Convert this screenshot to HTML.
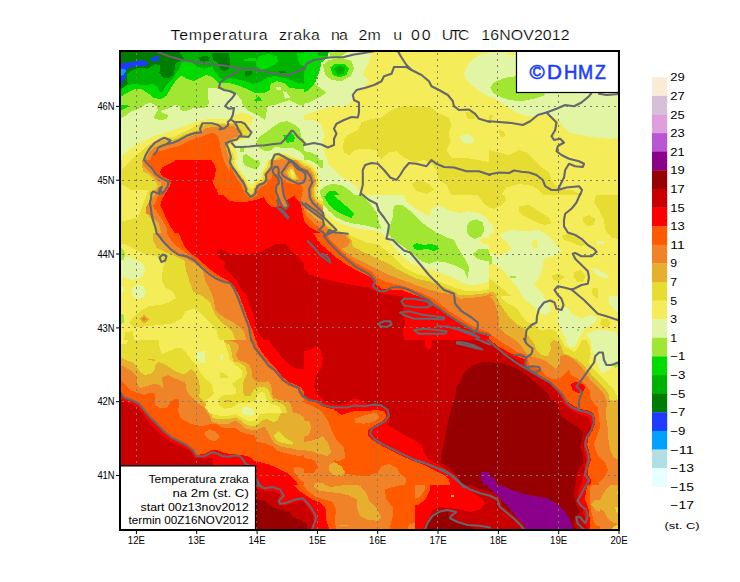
<!DOCTYPE html><html><head><meta charset="utf-8"><title>Temperatura zraka na 2m</title>
<style>html,body{margin:0;padding:0;background:#fff}svg{display:block}text{font-family:"Liberation Sans",sans-serif;fill:#000}.t{stroke:#fff;stroke-width:0.2px}</style></head><body>
<svg width="740" height="582" viewBox="0 0 740 582">
<rect width="740" height="582" fill="#fff"/>
<defs><clipPath id="mapclip"><rect x="120" y="51" width="499" height="479"/></clipPath></defs>
<g clip-path="url(#mapclip)" shape-rendering="crispEdges">
<clipPath id="t0"><rect x="119" y="50" width="185" height="145"/></clipPath>
<g clip-path="url(#t0)">
<rect x="119" y="50" width="185" height="145" fill="#00b200"/>
<polygon points="119.0,50.0 177.8,50.0 184.0,58.8 175.2,63.8 174.0,75.0 169.0,78.0 162.8,77.5 159.5,72.5 160.2,65.0 155.2,64.2 147.8,68.8 137.8,67.5 130.2,71.2 126.5,75.0 127.8,83.8 119.0,91.2" fill="#007d00"/>
<polygon points="199.0,57.5 205.2,55.5 210.2,57.5 209.0,60.5 204.0,61.8 200.2,60.5" fill="#007d00"/>
<polygon points="212.0,52.5 229.0,52.5 230.2,62.5 229.0,68.8 224.0,71.2 220.2,68.8 217.8,62.5 212.8,60.0" fill="#007d00"/>
<polygon points="244.5,71.0 251.5,70.5 252.0,75.0 246.5,76.8 244.5,74.5" fill="#007d00"/>
<polygon points="278.2,71.0 284.0,70.5 285.8,72.5 281.5,73.8" fill="#007d00"/>
<polygon points="119.0,63.8 131.5,61.8 144.0,60.0 147.8,63.0 147.0,65.5 137.8,66.2 130.2,67.5 126.5,70.5 125.2,78.8 121.5,84.2 119.0,85.0" fill="#1e3cff"/>
<polygon points="150.2,58.8 156.5,55.5 159.5,56.8 159.0,60.5 154.0,61.8 150.8,60.5" fill="#1e3cff"/>
<polygon points="119.0,70.0 124.0,68.8 126.2,70.5 124.0,74.2 119.0,77.5" fill="#00a0ff"/>
<polygon points="255.8,61.2 259.0,56.2 269.0,53.8 276.5,56.2 278.2,61.2 274.0,65.0 266.5,68.8 260.2,70.0 256.5,66.2" fill="#00dc00"/>
<polygon points="244.0,58.8 255.8,58.0 255.8,61.2 244.0,60.5" fill="#00dc00"/>
<polygon points="297.0,52.5 305.0,52.5 305.0,66.2 300.2,65.0 297.8,58.8" fill="#00dc00"/>
<polygon points="119.0,90.0 121.5,88.8 127.8,85.0 132.8,83.8 144.0,85.0 154.0,84.2 157.8,87.5 160.2,92.5 163.2,91.2 165.2,86.2 171.5,80.0 175.2,75.0 179.0,68.8 181.5,62.5 186.5,60.5 192.8,63.0 196.5,66.2 204.0,68.8 212.0,66.2 217.0,75.0 222.0,78.8 228.2,78.0 237.0,79.2 244.5,81.2 253.2,83.8 262.0,81.2 268.2,76.8 277.0,76.2 287.0,78.8 297.0,82.5 305.0,83.8 305.0,200.0 119.0,200.0" fill="#00dc00"/>
<polygon points="119.0,97.5 121.5,96.2 129.0,91.8 135.2,89.2 141.5,89.2 147.8,93.0 154.0,98.0 161.5,99.2 166.5,95.5 171.5,87.5 176.5,80.0 181.5,75.5 186.5,78.8 194.0,81.2 200.2,78.0 206.5,75.0 212.0,76.8 218.2,83.0 227.0,82.5 234.5,84.2 244.5,88.0 254.5,92.5 264.5,93.0 269.5,90.0 270.8,83.8 277.0,81.2 284.5,83.0 289.5,87.5 297.0,88.8 305.0,89.2 305.0,200.0 119.0,200.0" fill="#a0e632"/>
<polygon points="119.0,105.0 127.8,105.0 127.8,107.0 119.0,111.2" fill="#00dc00"/>
<polygon points="253.2,101.2 259.0,95.8 262.0,101.2" fill="#00dc00"/>
<polygon points="119.0,118.8 121.5,118.0 126.5,115.0 131.5,111.2 137.8,109.2 146.5,103.8 151.5,103.0 156.5,106.2 157.8,110.0 155.2,115.0 153.2,118.0 159.0,120.0 166.5,119.2 168.2,115.0 162.8,113.0 160.2,111.2 169.0,108.0 175.2,105.0 180.2,106.2 180.2,110.0 184.0,111.2 189.0,110.0 194.0,107.5 204.0,108.0 209.0,103.8 207.8,93.8 208.2,87.5 219.0,88.8 229.0,90.0 236.5,93.8 241.5,100.0 243.2,106.2 249.0,111.2 259.0,116.2 265.2,120.0 266.5,112.5 267.0,106.2 274.0,105.0 281.5,102.5 289.0,100.0 294.0,102.5 299.0,105.0 305.0,106.2 305.0,200.0 119.0,200.0" fill="#e1f5a5"/>
<polygon points="275.8,87.5 281.0,86.8 281.5,90.0 277.0,90.5" fill="#e1f5a5"/>
<polygon points="282.8,91.2 286.5,92.0 290.2,97.5 285.2,98.8" fill="#e1f5a5"/>
<polygon points="256.5,141.5 259.8,136.5 266.0,132.5 272.2,127.5 279.8,122.5 287.2,121.2 295.0,125.0 300.0,130.0 301.2,137.5 305.0,140.0 305.0,156.5 300.0,151.5 292.5,147.8 282.2,147.8 274.8,146.5 271.0,150.2 266.0,151.5 259.8,148.2 256.5,145.2" fill="#a0e632"/>
<polygon points="283.0,135.0 287.2,135.0 291.2,132.0 295.0,137.5 293.8,141.5 287.2,142.8 284.8,139.5" fill="#00dc00"/>
<polygon points="242.8,155.2 246.0,154.0 253.5,159.0 259.0,162.8 259.8,166.5 256.0,168.5 249.8,166.5 243.5,164.8" fill="#a0e632"/>
<polygon points="240.2,148.2 244.0,148.2 244.0,151.5 240.2,151.5" fill="#a0e632"/>
<polygon points="119.0,157.5 121.5,155.8 131.5,147.8 141.5,142.0 151.5,137.0 161.8,133.8 171.8,130.8 181.8,127.0 191.8,123.2 201.8,120.0 212.0,118.8 224.5,119.5 230.8,117.5 235.8,115.0 241.0,112.5 248.5,114.5 252.8,117.5 252.2,122.5 249.8,126.2 251.0,132.0 248.5,137.0 243.5,139.0 237.0,141.5 233.2,143.2 235.8,147.8 237.0,154.0 236.5,160.2 238.5,165.2 244.8,170.2 253.5,176.5 262.2,177.8 266.0,174.0 267.2,169.0 272.2,160.2 273.5,155.2 277.2,152.0 284.8,153.2 292.5,156.5 300.0,160.2 305.0,162.8 305.0,200.0 119.0,200.0" fill="#f5ec5a"/>
<polygon points="119.0,171.2 121.5,169.0 129.0,161.5 137.8,154.0 145.2,147.8 151.8,143.0 159.2,139.2 166.8,137.0 174.2,137.0 181.8,133.2 189.2,129.5 196.8,125.8 201.8,122.5 212.0,122.5 219.5,122.5 227.0,123.8 232.0,122.0 237.0,123.2 242.2,123.8 246.0,127.5 249.8,132.5 247.2,136.5 241.0,138.2 234.5,140.2 230.8,143.2 228.2,146.5 233.2,152.8 235.2,160.2 237.0,166.5 243.5,172.8 249.8,177.8 254.8,182.8 254.8,200.0 119.0,200.0" fill="#e6dc32"/>
<polygon points="262.2,200.0 262.2,182.8 266.0,177.8 269.8,170.2 273.5,160.2 276.0,154.5 279.8,154.0 287.2,155.8 295.0,159.0 302.5,162.8 305.0,164.8 305.0,200.0" fill="#e6dc32"/>
<polygon points="142.2,200.0 142.2,180.2 142.2,169.0 142.8,162.8 144.0,156.5 147.8,150.2 152.8,144.5 159.2,141.2 166.8,139.5 173.0,140.0 179.2,137.5 186.8,133.8 194.2,131.2 199.2,130.0 201.8,126.2 207.0,125.0 212.0,124.5 219.5,124.8 228.2,123.2 234.5,123.8 239.0,127.0 242.2,131.2 241.5,135.0 238.5,138.2 233.2,140.2 229.5,143.0 227.0,145.8 229.5,151.5 232.0,157.8 234.0,164.0 237.0,169.0 242.2,174.0 247.2,179.0 251.0,182.8 251.0,200.0" fill="#e6af2d"/>
<polygon points="264.8,200.0 268.5,176.5 271.0,170.2 274.8,162.8 277.2,157.8 282.2,157.0 290.0,159.5 297.5,162.8 305.0,166.5 305.0,200.0" fill="#e6af2d"/>
<polygon points="156.8,200.0 156.8,180.2 150.5,172.8 146.0,165.2 146.0,159.0 149.0,152.8 154.2,147.0 160.5,146.5 169.2,144.5 175.5,143.2 181.8,140.0 189.2,137.0 195.5,134.5 201.8,133.2 204.2,128.8 212.0,127.0 217.0,127.5 223.2,127.0 228.2,125.8 233.2,126.2 237.0,128.8 239.0,132.5 237.0,136.5 233.2,138.2 229.5,140.8 225.8,144.0 226.5,150.2 229.0,157.8 230.8,164.0 234.5,170.2 239.8,176.5 243.5,182.8 243.5,200.0" fill="#f08228"/>
<polygon points="267.2,200.0 271.0,175.2 273.5,167.8 277.2,160.2 282.2,159.0 287.2,160.2 288.5,165.2 284.8,170.2 286.0,176.5 292.5,180.2 305.0,182.8 305.0,200.0" fill="#f08228"/>
<polygon points="287.2,164.0 292.5,162.8 297.5,172.8 298.8,177.8 293.8,176.5 288.5,171.5" fill="#e6dc32"/>
<polygon points="156.8,200.0 156.8,175.2 151.8,166.5 150.5,159.0 153.0,152.8 161.8,150.8 171.8,147.8 179.2,145.8 186.8,142.0 194.2,138.8 204.2,135.8 212.0,132.5 217.0,135.0 219.5,141.5 220.8,150.2 223.2,157.8 225.8,165.2 229.5,171.5 233.2,177.8 237.0,182.8 237.0,200.0" fill="#ff5a00"/>
<polygon points="269.8,200.0 271.5,178.8 276.5,176.2 280.2,180.0 280.2,200.0" fill="#ff5a00"/>
<polygon points="160.5,200.0 160.5,172.8 161.8,167.8 169.2,164.0 178.0,160.2 186.8,161.5 196.8,160.8 207.0,160.2 213.5,162.8 215.8,168.8 215.2,175.2 212.8,182.8 217.0,190.2 219.5,200.0" fill="#ff0000"/>
</g>
<clipPath id="t1"><rect x="304" y="50" width="185" height="145"/></clipPath>
<g clip-path="url(#t1)">
<rect x="304" y="50" width="185" height="145" fill="#f5ec5a"/>
<polygon points="304.0,50.0 371.5,50.0 370.2,60.0 365.2,68.8 362.8,75.0 369.0,80.0 364.0,87.5 357.8,90.0 354.0,96.2 351.5,102.5 346.5,106.2 334.0,106.2 319.0,110.0 309.0,113.8 304.0,115.0" fill="#e1f5a5"/>
<polygon points="304.0,120.0 314.0,119.5 321.5,125.0 324.0,135.0 322.8,145.0 325.2,155.0 329.0,165.0 336.5,172.5 346.5,180.0 356.5,186.2 361.5,195.0 304.0,195.0" fill="#e1f5a5"/>
<polygon points="464.0,72.5 469.0,62.5 479.0,55.0 490.0,52.5 490.0,97.5 481.5,92.5 471.5,85.0 465.2,78.8" fill="#e1f5a5"/>
<polygon points="460.2,136.2 466.5,133.8 474.0,137.5 472.8,142.5 465.2,143.8 461.0,141.2" fill="#e1f5a5"/>
<polygon points="304.0,75.0 311.5,80.0 316.5,85.0 326.5,92.5 319.0,97.5 309.0,102.5 304.0,103.8" fill="#a0e632"/>
<polygon points="322.8,65.0 329.0,60.0 341.5,57.5 351.5,61.2 354.0,68.8 350.2,76.2 341.5,81.2 331.5,80.0 325.2,75.0" fill="#a0e632"/>
<polygon points="327.8,50.0 350.2,50.0 341.5,56.2 331.5,57.5" fill="#a0e632"/>
<polygon points="304.0,50.0 329.0,50.0 327.8,57.5 321.5,62.5 319.0,72.5 315.2,82.5 309.0,90.0 304.0,92.5" fill="#00dc00"/>
<polygon points="316.5,50.0 329.0,50.0 327.8,55.5 319.0,56.2" fill="#00b200"/>
<polygon points="330.2,67.5 335.2,63.8 344.0,63.8 349.0,68.8 346.5,75.0 339.0,77.5 332.8,75.0" fill="#00dc00"/>
<polygon points="334.0,68.8 339.0,65.5 345.2,67.5 344.0,73.8 337.8,75.0" fill="#00b200"/>
<polygon points="304.0,151.2 311.5,152.5 317.8,156.2 320.2,163.8 316.5,168.8 309.0,162.5 304.0,160.0" fill="#a0e632"/>
<polygon points="319.0,195.0 322.8,187.5 331.5,183.8 341.5,185.0 349.0,190.0 354.0,195.0" fill="#a0e632"/>
<polygon points="325.2,195.0 329.0,191.2 335.2,191.2 339.0,195.0" fill="#00dc00"/>
<polygon points="344.0,140.0 347.8,135.0 357.8,130.0 361.5,122.5 371.5,118.8 381.5,117.5 391.5,110.0 401.5,106.2 416.5,106.2 431.5,107.5 439.0,113.8 449.0,117.5 451.5,125.0 449.0,132.5 450.2,142.5 446.5,150.0 451.5,157.5 464.0,157.5 479.0,160.0 490.0,162.5 490.0,195.0 451.5,195.0 446.5,185.0 439.0,180.0 436.5,170.0 431.5,163.8 424.0,160.0 414.0,162.5 404.0,157.5 396.5,151.2 389.0,152.5 381.5,158.8 376.5,155.0 376.5,150.0 364.0,148.8 354.0,150.0 349.0,155.0 344.0,152.5 342.8,146.2" fill="#e6dc32"/>
<polygon points="465.2,112.5 471.5,111.2 476.5,115.0 474.0,119.5 467.8,118.8" fill="#e6dc32"/>
<polygon points="411.5,183.8 419.0,180.0 429.0,183.8 434.0,190.0 426.5,193.8 416.5,191.2" fill="#e6dc32"/>
<polygon points="304.0,167.5 309.0,168.8 314.0,176.2 315.2,195.0 304.0,195.0" fill="#e6dc32"/>
<polygon points="304.0,169.5 308.0,170.8 312.2,177.5 313.5,195.0 304.0,195.0" fill="#e6af2d"/>
<polygon points="304.0,172.0 307.0,173.0 310.2,180.0 311.0,195.0 304.0,195.0" fill="#f08228"/>
</g>
<clipPath id="t2"><rect x="489" y="50" width="185" height="145"/></clipPath>
<g clip-path="url(#t2)">
<rect x="489" y="50" width="185" height="145" fill="#f5ec5a"/>
<polygon points="489.0,50.0 621.5,50.0 621.5,137.5 609.0,138.8 594.0,137.5 581.5,135.0 569.0,132.5 562.8,126.2 557.8,118.8 549.0,114.5 539.0,115.5 526.5,116.2 516.5,112.5 506.5,106.2 496.5,100.0 489.0,96.2" fill="#e1f5a5"/>
<polygon points="506.5,52.0 516.5,52.0 515.2,55.5 507.8,55.0" fill="#f5ec5a"/>
<polygon points="490.2,87.5 494.0,82.5 504.0,78.0 516.5,76.2 516.5,92.5 544.0,92.5 545.2,95.0 534.0,98.8 521.5,101.2 509.0,100.0 499.0,96.2 492.8,92.5" fill="#a0e632"/>
<polygon points="489.0,150.0 499.0,152.5 509.0,155.0 519.0,150.0 526.5,152.5 534.0,160.0 541.5,167.5 549.0,172.5 551.5,180.0 556.5,186.2 561.5,190.0 571.5,190.0 581.5,195.0 489.0,195.0" fill="#e6dc32"/>
<polygon points="499.0,130.0 504.0,131.2 505.2,136.2 500.2,137.5" fill="#e6dc32"/>
<polygon points="489.0,115.0 492.8,115.5 492.0,120.0 489.0,120.5" fill="#e6dc32"/>
<polygon points="501.5,195.0 506.5,187.5 519.0,183.8 534.0,186.2 544.0,195.0" fill="#f5ec5a"/>
</g>
<clipPath id="t3"><rect x="119" y="195" width="185" height="145"/></clipPath>
<g clip-path="url(#t3)">
<rect x="119" y="195" width="185" height="145" fill="#e6dc32"/>
<polygon points="119.0,195.0 146.5,195.0 147.0,207.5 142.8,212.5 137.8,218.8 130.2,220.0 124.0,220.0 119.0,222.5" fill="#f5ec5a"/>
<polygon points="119.0,245.0 125.2,243.8 134.0,248.8 144.0,253.8 156.5,256.2 165.2,260.5 162.8,270.0 161.5,280.0 165.2,287.5 172.8,291.2 176.0,297.5 169.0,302.5 160.2,305.0 149.0,306.2 140.2,311.2 134.0,316.2 129.0,322.5 134.0,327.5 146.5,326.2 159.0,325.0 171.5,323.8 181.5,318.8 185.2,311.2 194.0,308.8 201.5,313.8 209.0,321.2 216.5,330.0 219.0,340.0 119.0,340.0" fill="#f5ec5a"/>
<polygon points="119.0,255.0 126.5,256.2 134.0,258.8 141.5,262.5 145.2,267.5 144.0,275.0 139.0,278.8 131.5,280.0 124.0,277.5 119.0,278.8" fill="#e1f5a5"/>
<polygon points="131.5,288.8 136.5,285.0 144.0,286.2 146.0,292.5 142.8,298.0 136.5,298.8 132.0,295.0" fill="#e1f5a5"/>
<polygon points="119.0,286.2 124.0,287.5 124.5,291.2 119.0,292.5" fill="#e1f5a5"/>
<polygon points="119.0,247.5 122.8,248.8 125.2,253.8 124.0,259.5 119.0,260.5" fill="#a0e632"/>
<polygon points="119.0,312.5 123.5,315.0 124.5,322.5 119.0,325.0" fill="#a0e632"/>
<polygon points="124.0,340.0 125.2,332.5 132.8,331.2 134.0,340.0" fill="#e6dc32"/>
<polygon points="139.0,318.8 144.0,315.0 149.5,319.2 144.0,323.8" fill="#e6af2d"/>
<polygon points="141.5,319.2 144.0,317.0 147.0,319.2 144.0,321.8" fill="#f08228"/>
<polygon points="148.5,192.5 149.0,210.0 151.0,222.5 152.8,232.5 153.5,241.2 156.5,247.5 165.2,252.0 175.2,256.2 184.5,260.5 186.0,270.0 189.0,280.0 192.8,291.2 202.8,296.2 210.2,302.5 214.0,312.5 219.0,320.0 226.5,326.2 232.8,332.5 236.5,345.0 305.0,345.0 305.0,192.5" fill="#e6af2d"/>
<polygon points="151.0,192.5 151.5,207.5 154.0,220.0 156.5,230.0 160.2,240.0 166.5,246.2 176.5,253.8 186.5,258.8 195.2,263.8 202.8,270.0 205.2,280.0 210.2,290.0 214.0,300.0 215.2,310.0 224.0,317.5 234.0,322.5 244.0,331.2 247.8,345.0 305.0,345.0 305.0,192.5" fill="#f08228"/>
<polygon points="154.0,192.5 156.5,205.0 160.2,215.0 164.0,225.0 167.8,235.0 172.8,242.5 180.2,248.8 189.0,255.0 196.5,261.2 204.0,267.5 211.5,273.8 219.0,278.8 227.8,282.5 232.8,287.5 236.5,295.0 240.2,305.0 244.0,315.0 247.8,325.0 251.5,333.8 254.0,345.0 305.0,345.0 305.0,192.5" fill="#ff5a00"/>
<polygon points="160.2,192.5 162.8,202.5 167.8,210.0 172.8,220.0 177.8,230.0 181.5,240.0 185.2,247.5 191.5,253.8 199.0,259.5 206.5,266.2 214.0,272.5 221.5,277.5 229.0,281.2 234.0,286.2 239.0,295.0 242.8,305.0 246.5,315.0 250.2,325.0 254.0,333.8 256.5,345.0 305.0,345.0 305.0,192.5" fill="#ff0000"/>
<polygon points="222.8,193.8 259.0,193.8 254.0,200.0 241.5,202.0 229.0,200.5" fill="#ff5a00"/>
<polygon points="266.5,193.8 279.0,193.8 281.5,202.5 286.5,210.0 291.5,217.5 289.0,220.0 281.5,213.8 274.0,205.0" fill="#ff5a00"/>
<polygon points="294.0,193.8 305.0,193.8 305.0,210.0 300.2,205.0" fill="#ff5a00"/>
<polygon points="216.5,251.2 221.5,248.8 229.0,253.8 239.0,255.0 249.0,253.8 259.0,252.5 269.0,247.5 276.5,243.8 286.5,244.5 291.5,251.2 299.0,257.5 305.0,265.5 305.0,345.0 267.8,345.0 259.0,333.8 255.2,325.0 254.0,315.0 249.0,305.0 246.5,295.0 241.5,290.0 236.5,280.0 229.0,272.5 224.0,267.5 225.2,262.5 219.0,257.5" fill="#c80000"/>
</g>
<clipPath id="t4"><rect x="304" y="195" width="185" height="145"/></clipPath>
<g clip-path="url(#t4)">
<rect x="304" y="195" width="185" height="145" fill="#f5ec5a"/>
<polygon points="312.8,193.8 317.8,203.8 325.2,212.5 335.2,220.0 345.2,225.0 356.5,228.8 369.0,230.0 379.0,231.2 386.5,237.5 395.2,248.8 404.0,257.5 411.5,263.8 424.0,267.5 436.5,271.2 449.0,276.2 461.5,282.5 471.5,285.5 481.5,283.8 490.0,281.2 490.0,221.2 481.5,213.8 469.0,211.2 459.0,213.0 449.0,210.5 439.0,205.0 431.5,208.8 429.0,216.2 424.0,213.8 414.0,207.5 406.5,201.2 402.8,193.8" fill="#e1f5a5"/>
<polygon points="479.0,238.8 490.0,237.5 490.0,245.0 482.8,243.8" fill="#f5ec5a"/>
<polygon points="319.0,193.8 361.5,193.8 369.0,202.5 376.5,212.5 379.0,222.5 381.5,228.8 374.0,227.5 364.0,225.0 354.0,223.8 344.0,221.2 336.5,217.5 329.0,211.2 322.8,203.8" fill="#a0e632"/>
<polygon points="324.0,196.2 331.5,193.8 339.0,200.0 347.8,207.5 354.0,213.8 351.5,218.0 344.0,215.0 336.5,211.2 329.0,205.0" fill="#00dc00"/>
<polygon points="392.8,210.0 395.2,205.0 401.5,204.5 409.0,210.0 416.5,217.5 426.5,226.2 436.5,232.5 446.5,237.5 454.0,240.0 457.8,247.5 464.0,257.5 469.0,267.5 467.8,278.8 464.0,270.0 456.5,266.2 446.5,262.5 436.5,261.2 429.0,263.8 421.5,261.2 414.0,255.0 406.5,248.8 399.0,243.8 391.5,237.5 387.8,232.5 390.2,225.0 392.8,217.5" fill="#a0e632"/>
<polygon points="413.2,245.0 416.5,243.0 424.0,245.0 431.5,243.8 437.8,246.2 439.0,248.8 434.0,251.2 426.5,248.8 419.0,250.5 414.0,248.8" fill="#00dc00"/>
<polygon points="466.5,226.2 470.2,221.2 476.5,219.2 482.8,222.5 484.5,230.0 481.5,236.2 475.2,238.8 469.0,236.2 466.5,231.2" fill="#a0e632"/>
<polygon points="472.8,253.8 479.0,248.8 486.5,248.8 490.0,251.2 490.0,261.2 484.0,260.5 477.8,258.8" fill="#a0e632"/>
<polygon points="476.5,193.8 490.0,193.8 490.0,207.5 484.0,203.8" fill="#e6dc32"/>
<polygon points="311.5,192.5 316.5,205.0 322.8,215.0 329.0,223.8 336.5,230.0 350.2,235.0 357.8,238.8 366.5,242.5 379.0,245.0 391.5,255.0 404.0,267.5 416.5,273.8 429.0,277.5 441.5,282.5 454.0,287.5 466.5,291.2 479.0,291.2 490.0,288.8 490.0,345.0 301.5,345.0 301.5,192.5" fill="#e6dc32"/>
<polygon points="310.2,192.5 314.0,205.0 320.2,216.2 326.5,225.0 334.0,231.2 346.5,233.8 351.5,240.0 352.8,246.2 361.5,251.2 370.2,255.0 379.0,259.5 389.0,263.8 396.5,268.8 404.0,272.5 416.5,278.8 429.0,281.2 441.5,286.2 454.0,291.2 459.0,295.0 469.0,295.0 479.0,294.2 490.0,292.5 490.0,345.0 301.5,345.0 301.5,192.5" fill="#e6af2d"/>
<polygon points="309.0,192.5 312.8,205.0 317.8,216.2 325.2,226.2 331.5,232.5 344.0,235.0 350.2,241.2 347.8,246.2 341.5,248.8 351.5,256.2 361.5,261.2 371.5,266.2 379.0,270.0 389.0,275.0 399.0,278.8 409.0,282.5 419.0,286.2 429.0,289.5 441.5,292.5 454.0,295.0 460.2,298.8 469.0,298.0 479.0,297.0 490.0,295.0 490.0,345.0 301.5,345.0 301.5,192.5" fill="#f08228"/>
<polygon points="306.5,192.5 310.2,205.0 314.0,215.0 320.2,225.0 326.5,235.0 331.5,241.2 339.0,248.8 346.5,256.2 355.2,262.5 364.0,267.5 371.5,271.2 376.5,277.5 384.0,281.2 394.0,283.8 404.0,286.2 414.0,290.0 424.0,293.8 434.0,298.8 441.5,305.0 449.0,311.2 459.0,317.5 469.0,323.8 479.0,328.8 490.0,332.5 490.0,345.0 301.5,345.0 301.5,192.5" fill="#ff5a00"/>
<polygon points="301.5,220.0 309.0,227.5 315.2,236.2 321.5,245.0 329.0,251.2 336.5,257.5 345.2,263.8 354.0,268.8 364.0,273.8 371.5,277.5 375.2,283.8 381.5,288.8 391.5,289.5 401.5,290.0 411.5,293.8 421.5,297.5 431.5,302.5 439.0,308.8 446.5,315.0 454.0,320.0 464.0,326.2 474.0,331.2 484.0,335.0 490.0,336.2 490.0,345.0 301.5,345.0" fill="#ff0000"/>
<polygon points="301.5,265.0 309.2,274.5 321.5,278.0 334.0,281.2 346.5,283.8 359.0,286.2 369.0,287.5 375.2,291.2 384.0,293.8 394.0,295.0 402.8,296.2 404.0,305.0 402.8,312.5 405.2,322.5 402.8,330.0 404.0,340.0 404.0,345.0 301.5,345.0" fill="#c80000"/>
</g>
<clipPath id="t5"><rect x="489" y="195" width="185" height="145"/></clipPath>
<g clip-path="url(#t5)">
<rect x="489" y="195" width="185" height="145" fill="#f5ec5a"/>
<polygon points="489.0,193.8 504.0,193.8 506.5,200.0 501.5,205.0 494.0,208.8 489.0,207.5" fill="#e6dc32"/>
<polygon points="519.0,206.2 529.0,205.0 539.0,211.2 549.0,217.5 551.5,223.8 544.0,225.0 534.0,221.2 524.0,216.2 519.0,211.2" fill="#e6dc32"/>
<polygon points="596.5,193.8 621.5,193.8 621.5,240.0 611.5,237.5 605.2,230.0 604.0,220.0 599.0,210.0 594.0,202.5" fill="#e6dc32"/>
<polygon points="582.8,217.5 589.0,215.0 595.2,218.8 594.0,225.0 587.8,226.2 583.5,222.5" fill="#e6dc32"/>
<polygon points="561.5,235.0 569.0,233.8 579.0,238.8 585.2,245.0 580.2,246.2 571.5,242.5 564.0,240.0" fill="#e6dc32"/>
<polygon points="574.0,272.5 580.2,270.0 585.2,275.0 584.0,281.2 577.8,282.5 574.5,277.5" fill="#e6dc32"/>
<polygon points="551.5,275.0 559.0,273.8 565.2,277.0 559.0,281.2 552.8,279.5" fill="#e6dc32"/>
<polygon points="591.5,288.8 597.8,287.5 599.0,305.0 595.2,306.2 592.8,295.0" fill="#e6dc32"/>
<polygon points="599.0,320.0 606.5,317.5 611.5,322.5 609.0,328.8 601.5,327.5" fill="#e6dc32"/>
<polygon points="500.2,233.8 511.5,230.0 526.5,231.2 539.0,230.0 549.0,236.2 556.5,245.0 561.5,251.2 554.0,256.2 544.0,258.8 542.8,267.5 539.0,277.5 534.0,285.0 539.0,290.0 547.8,300.0 550.2,308.8 545.2,312.5 537.8,307.5 529.0,302.5 521.5,295.0 516.5,286.2 509.0,277.5 502.8,270.0 496.5,265.0 489.0,262.5 489.0,252.5 496.5,255.0 504.0,253.8 511.5,248.8 506.5,241.2 501.5,237.5" fill="#e1f5a5"/>
<polygon points="531.5,241.2 536.5,240.0 537.8,247.5 533.5,248.8" fill="#f5ec5a"/>
<polygon points="489.0,222.5 492.8,223.8 494.0,232.5 489.0,235.0" fill="#e1f5a5"/>
<polygon points="591.5,267.5 599.0,270.0 609.0,276.2 606.5,278.8 596.5,275.0" fill="#e1f5a5"/>
<polygon points="596.5,241.2 604.0,241.2 604.0,243.8 596.5,244.5" fill="#e1f5a5"/>
<polygon points="606.5,300.0 614.0,295.0 617.8,297.5 617.8,307.5 611.5,310.0 607.8,306.2" fill="#e1f5a5"/>
<polygon points="561.5,312.5 571.5,310.0 584.0,312.5 591.5,315.0 589.0,320.0 576.5,321.2 564.0,320.0 559.0,316.2" fill="#e1f5a5"/>
<polygon points="539.0,330.0 549.0,328.8 556.5,332.0 551.5,335.0 541.5,333.8" fill="#e1f5a5"/>
<polygon points="489.0,255.0 491.5,256.2 492.0,263.8 489.0,265.0" fill="#a0e632"/>
<polygon points="510.2,275.5 516.0,275.5 516.0,278.0 510.2,278.0" fill="#a0e632"/>
<polygon points="489.0,278.8 495.2,282.5 502.8,288.8 510.2,295.0 517.8,301.2 524.0,307.5 530.2,313.8 534.0,320.0 530.2,326.2 526.5,332.5 526.0,345.0 489.0,345.0" fill="#e6dc32"/>
<polygon points="489.0,291.2 494.0,292.5 500.2,298.8 506.5,305.0 512.8,312.5 517.8,320.0 520.2,327.5 521.5,335.0 521.5,345.0 489.0,345.0" fill="#e6af2d"/>
<polygon points="489.0,293.8 492.8,295.0 497.8,301.2 501.5,308.8 505.2,317.5 510.2,325.0 514.0,332.5 516.5,345.0 489.0,345.0" fill="#f08228"/>
<polygon points="489.0,300.0 492.0,301.2 494.5,308.8 495.2,317.5 492.8,322.5 489.0,323.8" fill="#ff5a00"/>
<polygon points="489.0,330.0 496.5,331.2 504.0,336.2 506.5,345.0 489.0,345.0" fill="#ff5a00"/>
</g>
<clipPath id="t6"><rect x="119" y="340" width="185" height="145"/></clipPath>
<g clip-path="url(#t6)">
<rect x="119" y="340" width="185" height="145" fill="#f08228"/>
<polygon points="119.0,378.8 121.5,380.5 125.2,385.0 130.2,390.0 136.5,392.5 144.0,395.0 150.2,392.5 154.5,393.8 155.2,405.0 160.2,408.0 166.5,408.0 170.2,402.5 175.2,398.8 179.0,399.2 179.5,405.0 177.8,410.0 180.2,417.5 190.2,423.8 201.5,426.2 209.0,424.5 212.0,423.5 217.0,424.2 220.8,426.8 225.8,428.5 235.8,428.0 240.8,431.8 248.2,434.2 254.5,435.5 257.0,441.8 264.5,443.0 272.0,446.0 277.0,450.5 284.5,453.0 292.0,454.8 299.5,456.0 305.0,454.8 305.0,490.0 119.0,490.0" fill="#ff5a00"/>
<polygon points="204.0,433.8 209.0,429.2 215.8,431.8 219.5,436.8 215.8,441.0 209.0,440.0" fill="#f08228"/>
<polygon points="293.2,468.0 298.2,466.8 305.0,469.2 305.0,483.0 299.5,479.2 294.5,473.0" fill="#f08228"/>
<polygon points="119.0,391.2 124.0,397.5 131.5,400.0 139.0,403.8 144.0,410.0 149.0,416.2 156.5,423.8 164.0,431.2 171.5,437.5 179.0,441.2 186.5,445.0 192.8,450.0 196.5,455.0 204.0,453.8 212.0,449.8 218.2,450.5 224.5,453.0 232.0,454.2 239.5,454.8 244.5,455.5 249.5,456.8 254.5,460.5 262.0,463.0 268.2,464.2 274.5,466.8 280.8,469.8 287.0,473.0 292.0,478.0 297.0,483.0 299.5,490.0 119.0,490.0" fill="#ff0000"/>
<polygon points="119.0,396.2 124.0,401.2 131.5,403.8 137.8,407.5 142.8,413.8 149.0,422.5 156.5,430.0 164.0,437.5 171.5,442.5 181.5,446.2 190.2,451.2 194.0,457.5 204.0,458.8 212.8,457.5 212.8,490.0 119.0,490.0" fill="#c80000"/>
<polygon points="119.0,364.2 121.5,365.5 126.5,368.0 132.8,371.8 136.5,376.2 137.0,383.8 140.2,388.0 146.5,386.2 154.0,383.8 159.0,385.0 163.2,388.8 162.0,377.5 167.8,375.0 174.0,378.0 179.0,380.0 185.2,382.5 186.5,390.0 189.0,395.0 194.0,398.8 196.5,402.5 204.0,407.5 209.0,415.0 212.0,421.8 219.5,424.2 227.0,424.2 235.8,420.5 240.8,424.2 244.5,428.0 250.8,429.8 255.8,430.5 260.8,428.0 264.5,426.8 268.2,431.8 270.8,438.0 274.5,443.0 282.0,446.8 289.5,448.0 297.0,449.8 305.0,450.5 305.0,418.0 299.5,414.2 293.2,412.5 292.0,410.0 290.8,403.8 287.0,401.2 279.5,400.0 273.2,397.5 272.0,392.5 271.2,385.0 268.2,381.2 262.0,382.5 255.8,381.2 252.0,377.5 252.0,371.2 249.5,365.0 244.5,361.8 238.2,360.0 235.8,353.8 238.8,348.8 238.2,343.8 232.0,341.2 225.8,338.8 119.0,338.8" fill="#e6af2d"/>
<polygon points="119.0,356.8 121.5,358.0 126.5,360.5 132.8,362.5 136.5,366.2 140.2,371.8 145.2,375.0 150.2,373.8 154.5,370.0 155.2,365.0 159.0,361.8 164.0,364.2 169.0,366.8 175.2,371.2 182.8,374.2 187.0,372.5 191.5,368.8 195.2,372.5 199.0,381.2 200.2,390.0 199.0,396.2 202.8,400.0 209.0,406.2 212.0,412.5 212.0,418.0 219.5,419.2 228.2,419.2 235.8,417.2 240.8,420.5 244.5,424.2 249.5,425.5 255.8,425.5 259.5,423.0 263.2,419.8 267.0,419.2 273.2,422.2 277.0,421.0 280.0,415.5 280.8,413.0 287.0,412.5 285.8,407.5 282.0,403.8 274.5,401.2 270.8,396.2 268.8,390.0 264.5,386.8 258.2,387.5 253.2,390.0 250.8,396.2 243.8,396.2 243.2,390.0 243.2,382.5 247.0,373.8 245.8,367.5 240.8,363.0 233.2,361.2 232.0,356.2 231.2,350.0 229.5,345.0 224.5,341.8 218.2,338.8 119.0,338.8" fill="#e6dc32"/>
<polygon points="273.8,435.5 278.2,431.0 282.0,434.2 287.0,439.2 293.2,442.2 292.0,444.8 285.8,443.5 279.5,442.2 275.8,439.2" fill="#e6dc32"/>
<polygon points="159.0,338.8 159.0,345.0 162.0,354.2 169.0,351.2 177.8,347.5 182.8,348.8 187.8,355.0 192.8,361.2 196.5,365.0 200.2,372.5 205.2,378.8 211.5,383.8 214.0,393.8 206.5,400.0 205.2,407.5 210.2,413.8 219.5,415.5 227.0,416.0 235.8,414.2 240.8,416.8 244.5,419.2 247.5,420.5 254.5,420.5 257.5,418.0 259.5,414.2 269.0,413.0 282.0,412.5 280.0,407.5 274.5,405.0 268.8,402.5 266.0,398.0 265.0,393.0 261.2,391.8 257.5,394.2 255.8,400.0 249.5,403.0 242.0,402.5 237.0,403.8 232.0,407.5 224.5,408.8 219.5,405.0 218.2,398.8 223.2,395.5 230.8,395.0 235.8,393.8 235.8,388.8 232.0,383.8 237.0,380.0 242.5,376.2 242.0,370.0 235.8,365.0 229.5,358.8 228.2,352.5 225.8,346.2 223.2,338.8" fill="#f5ec5a"/>
<polygon points="119.0,338.8 129.0,338.8 126.5,343.8 119.0,343.8" fill="#f5ec5a"/>
<polygon points="196.5,352.5 205.2,350.5 205.2,362.5 201.5,363.0 197.0,358.8" fill="#e1f5a5"/>
<polygon points="220.0,355.0 222.5,355.5 222.5,360.5 220.8,361.2" fill="#e1f5a5"/>
<polygon points="241.5,413.0 243.2,407.5 248.2,406.8 253.2,410.0 255.2,413.0 251.5,415.5 246.5,415.0" fill="#e1f5a5"/>
<polygon points="219.5,371.8 224.5,373.8 228.8,376.8 228.2,378.0 219.5,378.0" fill="#e6dc32"/>
<polygon points="225.0,400.0 230.8,400.0 230.8,401.8 225.0,401.8" fill="#e6af2d"/>
<polygon points="147.2,359.2 154.5,358.8 154.5,361.2" fill="#e6af2d"/>
<polygon points="250.5,338.8 253.8,347.5 258.2,354.2 263.2,360.5 267.5,366.2 272.0,370.0 277.0,375.0 282.0,381.2 288.2,385.5 293.2,387.5 297.5,389.2 298.2,392.5 302.0,397.5 305.0,399.2 305.0,338.8" fill="#ff5a00"/>
<polygon points="255.0,338.8 258.2,346.2 262.0,352.5 267.0,358.8 272.0,365.0 277.0,370.0 282.0,376.2 288.2,381.8 294.5,384.2 300.8,387.5 305.0,392.5 305.0,338.8" fill="#ff0000"/>
<polygon points="268.2,338.8 272.0,345.0 277.0,351.2 282.0,357.5 287.0,362.5 292.0,366.8 298.2,369.2 305.0,368.8 305.0,338.8" fill="#c80000"/>
</g>
<clipPath id="t7"><rect x="304" y="340" width="185" height="145"/></clipPath>
<g clip-path="url(#t7)">
<rect x="304" y="340" width="185" height="145" fill="#c80000"/>
<polygon points="302.8,351.2 310.2,350.0 315.2,346.2 320.2,348.8 322.8,357.5 321.5,367.5 316.5,375.0 314.0,385.0 317.8,395.0 325.2,401.2 336.5,405.5 346.5,404.2 351.5,399.5 357.8,398.8 362.8,402.5 371.5,405.5 381.5,404.5 389.0,411.2 390.2,417.5 387.8,425.0 394.0,428.8 404.0,435.0 414.0,440.0 421.5,445.0 424.0,452.5 429.0,460.0 439.0,465.0 449.0,471.2 459.0,478.8 464.0,490.0 302.8,490.0" fill="#ff0000"/>
<polygon points="425.2,338.8 432.8,338.8 431.5,347.5 427.8,350.0 425.2,345.0" fill="#ff0000"/>
<polygon points="476.5,338.8 490.0,338.8 490.0,345.5 482.8,343.0" fill="#ff0000"/>
<polygon points="490.0,361.2 481.5,362.5 471.5,366.2 464.0,372.5 461.5,380.0 456.5,387.5 455.2,397.5 451.5,407.5 449.0,417.5 446.5,430.0 444.0,442.5 441.5,455.0 440.2,462.5 449.0,467.5 456.5,475.0 464.0,490.0 490.0,490.0" fill="#960000"/>
<polygon points="481.0,472.5 490.0,472.0 490.0,490.0 485.2,490.0 481.5,478.8" fill="#8b008b"/>
<polygon points="302.8,397.5 309.0,400.8 316.5,402.5 324.0,407.0 334.0,409.5 341.5,415.0 349.0,412.5 356.5,410.5 366.5,411.2 376.5,410.0 384.0,411.2 386.5,416.2 382.8,421.2 375.2,425.0 367.8,430.0 367.8,435.0 374.0,441.2 384.0,447.0 394.0,452.0 404.0,457.0 414.0,461.2 424.0,465.0 434.0,470.0 444.0,475.0 449.0,480.0 451.5,490.0 302.8,490.0" fill="#ff5a00"/>
<polygon points="302.8,402.5 311.5,405.5 321.5,411.2 327.8,420.0 331.5,430.0 336.5,440.0 344.0,447.5 345.2,457.5 339.0,461.2 334.0,460.0 330.2,465.0 339.0,472.5 354.0,475.0 366.5,476.2 377.8,472.5 381.5,466.2 389.0,463.8 396.5,467.5 400.2,473.8 406.5,478.8 404.0,490.0 302.8,490.0" fill="#f08228"/>
<polygon points="354.0,418.8 361.5,416.2 376.5,412.5 379.0,417.5 375.2,421.2 364.0,423.8 355.2,422.5" fill="#f08228"/>
<polygon points="302.8,420.0 309.0,421.2 311.5,427.5 309.0,435.0 302.8,437.5" fill="#e6af2d"/>
<polygon points="302.8,442.5 314.0,440.0 322.8,436.2 327.8,442.5 331.5,452.5 327.8,456.2 319.0,453.8 311.5,451.2 302.8,450.0" fill="#e6af2d"/>
<polygon points="329.0,465.0 334.0,462.0 341.5,466.2 345.2,472.5 341.5,476.2 332.8,475.0 329.0,470.0" fill="#e6af2d"/>
<polygon points="314.0,490.0 315.2,483.0 324.0,482.5 325.2,490.0" fill="#e6af2d"/>
<polygon points="302.8,457.5 314.0,460.0 317.8,466.2 314.0,472.5 302.8,472.5" fill="#ff5a00"/>
</g>
<clipPath id="t8"><rect x="489" y="340" width="185" height="145"/></clipPath>
<g clip-path="url(#t8)">
<rect x="489" y="340" width="185" height="145" fill="#f08228"/>
<polygon points="527.8,338.8 534.0,346.2 537.8,353.8 545.2,358.8 552.8,356.2 557.8,351.2 561.5,355.0 571.5,356.2 580.2,361.2 587.8,370.0 591.5,377.5 596.5,383.8 604.0,390.0 607.8,397.5 606.5,407.5 606.0,417.5 607.8,427.5 608.5,440.0 610.2,450.0 614.0,457.5 621.5,461.2 621.5,338.8" fill="#e6af2d"/>
<polygon points="537.8,338.8 551.5,338.8 552.8,347.5 547.8,351.2 541.5,348.8" fill="#e6dc32"/>
<polygon points="564.0,338.8 564.0,347.5 571.5,352.5 580.2,357.5 587.8,365.0 592.8,373.8 599.0,380.0 606.5,386.2 611.5,393.8 614.0,402.5 615.2,397.5 621.5,400.0 621.5,338.8" fill="#e6dc32"/>
<polygon points="566.5,338.8 569.0,347.5 576.5,351.2 584.0,355.0 589.0,362.5 595.2,371.2 601.5,377.5 609.0,381.2 616.5,382.5 621.5,383.8 621.5,338.8" fill="#f5ec5a"/>
<polygon points="567.8,338.8 570.2,345.0 576.5,346.2 580.2,341.2 584.0,338.8" fill="#e1f5a5"/>
<polygon points="591.5,338.8 594.0,347.5 592.8,357.5 595.2,365.0 601.5,372.5 609.0,375.0 616.5,371.2 621.5,368.8 621.5,338.8" fill="#e1f5a5"/>
<polygon points="612.8,363.8 621.5,361.2 621.5,367.5 615.2,367.0" fill="#a0e632"/>
<polygon points="494.0,338.8 504.0,348.8 514.0,356.2 524.0,362.5 534.0,367.5 542.8,372.5 551.5,377.5 557.8,382.5 564.0,377.5 569.0,372.5 575.2,377.5 585.2,381.2 589.0,390.0 591.5,400.0 597.8,407.5 599.0,417.5 600.2,427.5 596.5,437.5 594.0,445.0 597.8,455.0 605.2,462.5 607.8,470.0 604.0,477.5 599.0,482.5 597.8,490.0 487.8,490.0 487.8,338.8" fill="#ff5a00"/>
<polygon points="487.8,338.8 496.5,346.2 504.0,352.5 514.0,360.0 524.0,366.2 532.8,371.2 541.5,376.2 550.2,381.2 557.0,387.5 563.5,393.8 567.8,401.2 572.8,405.5 580.2,408.8 587.8,410.5 594.0,413.8 595.2,422.5 592.8,430.0 588.5,437.5 587.2,445.0 589.5,452.5 591.0,460.0 588.5,467.5 587.8,475.0 591.5,480.0 589.0,490.0 487.8,490.0" fill="#ff0000"/>
<polygon points="571.5,385.0 576.5,381.2 582.8,382.5 585.2,387.5 581.5,392.5 575.2,391.2" fill="#ff0000"/>
<polygon points="487.8,342.5 496.5,350.0 504.0,356.2 514.0,363.8 524.0,369.5 532.8,374.5 541.5,379.5 550.2,385.0 555.2,391.2 560.2,397.5 564.0,405.0 571.5,410.0 579.0,413.8 586.5,416.2 590.2,420.0 591.0,427.5 587.8,435.0 584.0,442.5 584.0,450.0 586.0,457.5 585.2,467.5 582.8,476.2 581.5,490.0 487.8,490.0" fill="#c80000"/>
<polygon points="487.8,361.2 499.0,362.5 509.0,365.0 519.0,370.0 529.0,377.5 539.0,385.0 547.8,392.5 554.0,400.0 559.0,407.5 560.2,415.0 566.5,420.0 576.5,426.2 582.8,432.5 582.0,440.0 580.2,447.5 582.8,455.0 583.5,462.5 579.0,467.5 576.5,475.0 575.2,490.0 487.8,490.0" fill="#960000"/>
<polygon points="487.8,475.0 495.2,478.8 499.0,490.0 487.8,490.0" fill="#8b008b"/>
</g>
<clipPath id="t9"><rect x="230" y="485" width="185" height="46"/></clipPath>
<g clip-path="url(#t9)">
<rect x="230" y="485" width="185" height="46" fill="#ff5a00"/>
<polygon points="292.5,468.2 302.5,465.8 312.5,467.0 317.5,462.0 325.0,457.0 332.5,454.5 340.0,452.0 345.0,457.0 350.0,464.5 360.0,469.5 372.5,470.8 382.5,465.8 392.5,464.5 402.5,469.5 407.5,478.2 402.5,484.5 392.5,487.0 385.0,489.5 386.2,499.5 392.5,507.0 392.5,517.0 388.8,532.0 336.2,532.0 335.0,519.5 336.2,509.5 332.5,502.0 325.0,499.5 316.2,497.0 307.5,490.8 300.0,482.0 293.8,474.5" fill="#f08228"/>
<polygon points="328.8,463.2 333.8,462.0 340.0,468.2 345.0,474.5 337.5,476.5 330.0,473.2" fill="#e6af2d"/>
<polygon points="313.8,484.5 322.5,483.2 330.0,487.0 340.0,485.8 350.0,483.2 360.0,485.8 366.2,493.2 370.0,502.0 377.5,509.5 381.2,517.0 377.5,520.8 367.5,519.5 360.0,515.8 357.0,508.2 357.5,499.5 350.0,495.8 340.0,493.2 330.0,492.0 320.0,490.8 315.0,488.2" fill="#e6af2d"/>
<polygon points="340.0,524.5 347.5,524.5 347.5,526.0 340.0,526.0" fill="#e6af2d"/>
<polygon points="407.5,532.0 408.8,524.5 416.0,522.0 416.0,532.0" fill="#f08228"/>
<polygon points="255.0,462.0 267.5,464.5 277.5,468.2 287.5,477.0 295.0,487.0 302.5,493.2 312.5,499.5 321.2,503.2 326.2,509.5 326.2,519.5 330.0,532.0 252.5,532.0" fill="#ff0000"/>
<polygon points="256.2,488.2 265.0,490.8 272.5,490.8 280.0,494.5 277.5,502.5 283.8,505.8 295.0,502.0 302.5,500.8 307.5,507.0 312.5,514.5 313.8,522.0 310.0,532.0 252.5,532.0" fill="#c80000"/>
<polygon points="256.2,499.5 265.0,500.8 270.0,505.8 280.0,509.5 290.0,512.0 292.5,517.0 302.5,520.8 307.5,524.5 306.2,532.0 252.5,532.0" fill="#960000"/>
</g>
<clipPath id="t10"><rect x="415" y="485" width="185" height="46"/></clipPath>
<g clip-path="url(#t10)">
<rect x="415" y="485" width="185" height="46" fill="#960000"/>
<polygon points="481.2,474.5 485.0,472.0 490.0,474.5 495.0,482.0 505.0,487.0 517.5,492.0 532.5,495.8 547.5,498.2 557.5,504.5 565.0,512.0 570.0,519.5 573.8,532.0 525.0,532.0 520.0,522.0 512.5,512.0 505.0,503.2 497.5,495.8 490.0,488.2 483.8,482.0" fill="#8b008b"/>
<polygon points="445.0,435.8 442.5,444.5 440.0,454.5 445.0,462.0 452.5,468.2 462.5,478.2 472.5,485.8 482.5,490.0 492.5,492.5 500.0,497.0 502.5,505.8 510.0,512.0 517.5,518.2 523.8,524.5 527.0,532.0 413.8,532.0 413.8,435.8" fill="#c80000"/>
<polygon points="413.8,442.0 422.5,447.0 425.0,457.0 432.5,462.0 440.0,468.2 450.0,474.5 460.0,483.2 470.0,490.8 480.0,497.0 485.0,503.2 480.0,509.5 470.0,512.0 460.0,509.5 450.0,508.2 440.0,507.0 432.5,509.5 430.0,517.0 425.0,524.5 422.5,532.0 413.8,532.0" fill="#ff0000"/>
<polygon points="425.0,532.0 427.5,523.2 433.0,516.5 440.0,512.5 447.5,511.5 450.0,517.0 456.2,522.0 465.0,525.0 472.5,527.0 472.5,532.0" fill="#960000"/>
<polygon points="413.8,462.0 420.0,464.5 427.5,469.5 431.2,479.5 430.0,489.5 425.0,499.5 418.8,504.5 413.8,505.8" fill="#ff5a00"/>
<polygon points="413.8,472.0 420.0,473.2 425.0,479.5 425.0,489.5 420.0,497.0 413.8,499.5" fill="#f08228"/>
<polygon points="451.2,495.0 453.8,495.0 453.8,497.0 451.2,497.0" fill="#e6af2d"/>
<polygon points="577.5,435.8 581.2,444.5 580.0,454.5 582.5,464.5 578.8,474.5 575.0,484.5 573.8,494.5 576.2,504.5 580.0,512.0 575.0,517.0 573.8,524.5 577.5,532.0 601.0,532.0 601.0,435.8" fill="#c80000"/>
<polygon points="582.0,435.8 583.8,447.0 585.0,462.0 582.5,474.5 580.0,487.0 577.5,499.5 582.5,508.2 585.0,519.5 587.5,532.0 601.0,532.0 601.0,435.8" fill="#ff0000"/>
<polygon points="588.8,435.8 590.0,452.0 591.2,467.0 590.0,479.5 586.2,489.5 585.0,499.5 588.8,509.5 590.0,522.0 590.0,532.0 601.0,532.0 601.0,435.8" fill="#ff5a00"/>
<polygon points="591.2,435.8 595.0,452.0 601.0,457.0 601.0,435.8" fill="#f08228"/>
<polygon points="590.0,487.0 595.0,482.0 601.0,480.8 601.0,527.0 595.0,524.5 591.2,512.0 590.0,499.5" fill="#f08228"/>
<polygon points="591.2,504.5 593.8,500.8 601.0,499.5 601.0,512.0 596.2,510.8" fill="#e6af2d"/>
</g>
<clipPath id="t11"><rect x="600" y="485" width="20" height="46"/></clipPath>
<g clip-path="url(#t11)">
<rect x="600" y="485" width="20" height="46" fill="#f08228"/>
<polygon points="600.0,499.5 605.0,490.8 611.2,484.5 621.2,479.5 621.2,524.5 613.8,523.2 607.5,518.2 603.8,510.8 597.5,508.2 592.5,504.5 592.5,500.8" fill="#e6af2d"/>
<polygon points="615.0,507.0 621.2,505.8 621.2,514.5 616.2,512.0" fill="#e6dc32"/>
<polygon points="616.2,492.0 621.2,489.5 621.2,498.2" fill="#e6dc32"/>
<polygon points="608.8,532.0 615.0,525.8 621.2,524.5 621.2,532.0" fill="#e6dc32"/>
</g>
<clipPath id="t12"><rect x="230" y="160" width="93" height="73"/></clipPath>
<g clip-path="url(#t12)">
<rect x="230" y="160" width="93" height="73" fill="#ff5a00"/>
<polygon points="230.0,200.8 237.5,202.1 245.1,202.1 255.1,200.2 263.9,197.1 266.4,201.5 271.5,206.5 279.0,206.5 284.0,204.0 289.0,198.9 294.1,195.8 296.6,198.9 300.4,203.3 302.2,210.3 302.9,216.5 305.4,222.8 310.4,227.8 315.4,230.4 323.6,234.1 323.6,235.4 230.0,235.4" fill="#ff0000"/>
<polygon points="230.0,166.3 233.8,173.8 237.5,179.5 241.3,185.1 243.8,190.2 244.4,193.3 250.7,199.2 257.0,195.2 257.6,190.8 260.8,187.0 265.8,184.5 268.9,180.7 271.5,177.6 273.3,173.8 274.0,167.5 275.2,159.4 230.0,159.4" fill="#f08228"/>
<polygon points="272.1,159.4 274.0,166.3 278.4,166.3 279.6,172.6 280.3,178.8 285.3,182.0 290.3,183.2 295.3,184.5 300.4,183.9 302.9,188.9 302.2,195.2 300.4,200.2 302.2,204.0 304.1,210.3 306.6,216.5 311.7,221.6 317.9,226.6 323.6,230.4 323.6,159.4" fill="#f08228"/>
<polygon points="306.6,207.7 311.7,210.3 317.9,215.3 323.6,219.0 323.6,222.8 317.9,220.3 311.7,215.3 307.3,211.5" fill="#e6af2d"/>
<polygon points="230.0,159.4 230.0,162.5 232.5,167.5 236.3,172.6 240.1,178.2 243.8,183.2 246.3,188.9 245.7,191.4 250.7,197.1 255.1,193.9 255.8,189.5 258.9,185.1 263.9,183.2 266.4,180.1 265.8,174.4 268.9,170.7 271.5,167.5 272.1,159.4" fill="#e6af2d"/>
<polygon points="230.0,159.4 232.5,165.7 236.9,171.3 241.3,177.6 245.1,183.2 247.6,188.3 248.8,192.7 251.4,194.5 253.9,192.0 254.5,188.3 257.6,183.9 262.7,181.6 264.9,178.8 264.2,173.8 267.7,169.4 269.9,166.3 270.5,159.4" fill="#e6dc32"/>
<polygon points="233.1,159.4 234.4,165.0 238.2,170.7 242.6,177.0 246.3,182.6 249.5,188.3 252.0,190.2 253.9,187.0 257.0,182.6 261.4,180.1 263.3,177.6 262.9,173.2 266.4,168.2 268.3,165.0 268.7,159.4" fill="#f5ec5a"/>
<polygon points="235.7,159.4 236.3,164.4 240.1,170.1 244.4,176.3 248.2,181.4 251.4,184.5 255.1,181.4 259.5,178.8 261.4,176.3 261.4,172.6 264.5,167.5 266.4,163.8 266.7,159.4" fill="#e1f5a5"/>
<polygon points="243.2,159.4 258.9,159.4 260.2,163.8 258.3,167.5 255.1,169.4 250.1,167.5 245.1,165.7 243.2,162.5" fill="#a0e632"/>
<polygon points="272.7,170.1 274.6,166.9 277.7,166.9 278.7,170.1 278.4,175.1 281.5,178.8 282.1,183.9 282.8,190.2 284.0,196.4 286.5,201.5 288.4,205.9 285.9,209.0 282.8,207.1 280.3,202.7 278.4,197.7 275.9,191.4 276.5,185.8 279.0,183.2 278.4,178.8 275.9,175.7 273.3,173.2" fill="#f08228"/>
<polygon points="285.3,172.6 289.0,166.9 292.8,166.3 295.3,172.6 299.1,178.8 295.3,180.7 290.3,178.8" fill="#e6af2d"/>
<polygon points="287.8,172.6 290.3,168.8 292.8,168.8 295.3,173.8 296.6,178.8 292.8,178.8 289.7,176.3" fill="#e6dc32"/>
<polygon points="290.3,171.3 291.8,170.1 293.4,172.6 294.1,177.0 292.2,177.0" fill="#f5ec5a"/>
<polygon points="295.3,159.4 298.5,163.1 302.9,166.9 308.5,169.4 312.9,175.1 314.8,182.6 311.9,189.5 312.3,196.7 315.4,201.5 319.8,205.5 323.6,208.4 323.6,159.4" fill="#e6af2d"/>
<polygon points="297.2,159.4 300.4,162.8 304.7,165.7 310.4,168.2 314.4,174.1 316.4,182.6 313.5,189.9 313.9,196.2 316.9,200.5 321.1,204.2 323.6,205.9 323.6,159.4" fill="#e6dc32"/>
<polygon points="299.7,159.4 302.9,162.3 307.3,164.8 312.3,167.3 316.4,173.6 317.9,182.6 315.4,190.2 315.8,195.4 318.6,199.2 323.6,202.7 323.6,159.4" fill="#f5ec5a"/>
<polygon points="304.1,159.4 307.9,162.5 313.5,165.3 317.9,171.9 319.8,182.6 317.7,190.4 317.9,194.5 320.5,197.7 323.6,199.6 323.6,159.4" fill="#e1f5a5"/>
<polygon points="307.9,159.4 312.9,161.9 317.9,165.0 320.5,167.5 323.6,167.5 323.6,159.4" fill="#a0e632"/>
<polygon points="319.8,190.2 323.6,188.3 323.6,200.2 321.1,197.7" fill="#a0e632"/>
</g>
<clipPath id="t13"><rect x="119" y="160" width="93" height="73"/></clipPath>
<g clip-path="url(#t13)">
<rect x="119" y="160" width="93" height="73" fill="#ff0000"/>
<polygon points="150.4,159.4 176.8,159.4 173.0,161.9 168.0,164.4 162.3,167.5 159.8,171.9 162.3,176.3 168.6,179.5 170.8,182.6 169.5,186.6 165.7,192.9 162.0,199.2 160.2,205.9 163.2,211.5 166.5,219.0 169.5,225.3 173.3,230.4 175.8,235.4 118.4,235.4 118.4,159.4" fill="#ff5a00"/>
<polygon points="146.0,159.4 150.4,165.0 155.4,171.9 159.2,175.7 164.2,178.8 168.6,181.4 167.7,185.8 164.9,190.2 161.7,193.3 157.3,197.7 154.8,203.3 152.9,206.5 156.7,211.5 161.7,219.0 165.5,225.3 167.4,230.4 167.4,235.4 118.4,235.4 118.4,159.4" fill="#f08228"/>
<polygon points="142.2,159.4 142.9,165.0 146.0,168.8 150.4,172.6 154.2,176.3 156.7,180.7 161.7,182.6 160.5,186.4 156.7,190.2 154.8,195.2 151.7,198.9 148.5,203.3 146.0,207.7 146.0,212.8 150.4,215.3 154.8,219.0 159.2,224.1 160.5,230.4 160.5,235.4 118.4,235.4 118.4,159.4" fill="#e6af2d"/>
<polygon points="141.6,159.4 142.2,165.7 142.9,171.3 147.9,173.8 152.3,177.6 155.4,182.0 157.9,185.1 155.4,189.5 152.3,191.4 150.4,196.4 149.2,201.5 146.0,206.5 145.4,212.8 148.5,215.3 151.7,220.3 155.4,226.6 156.7,235.4 118.4,235.4 118.4,159.4" fill="#e6dc32"/>
<polygon points="121.5,159.4 131.6,159.4 126.5,165.0 121.5,170.1" fill="#f5ec5a"/>
<polygon points="121.5,183.9 126.5,187.0 131.6,190.2 144.1,190.2 148.5,189.5 146.0,196.4 144.1,201.5 141.6,207.7 139.7,214.0 136.6,217.8 129.1,220.3 121.5,220.9" fill="#f5ec5a"/>
</g>
<clipPath id="t14"><rect x="489" y="296" width="131" height="104"/></clipPath>
<g clip-path="url(#t14)">
<rect x="489" y="296" width="131" height="104" fill="#f5ec5a"/>
<polygon points="520.7,289.1 536.8,289.1 542.4,295.7 550.0,303.2 550.9,310.8 546.2,315.5 540.5,312.7 534.9,307.0 527.3,301.4 521.6,295.7" fill="#e1f5a5"/>
<polygon points="558.5,308.9 563.2,307.0 568.9,308.9 572.7,314.6 580.3,318.4 587.8,316.5 591.6,314.6 597.3,318.4 593.5,324.1 585.9,327.8 582.2,333.5 578.4,339.2 574.6,346.8 570.8,347.7 567.0,344.9 565.1,337.3 561.3,330.7 558.5,322.2 557.6,314.6" fill="#e1f5a5"/>
<polygon points="608.6,295.7 614.3,294.7 620.9,297.6 620.9,314.6 614.3,310.8 609.6,303.2" fill="#e1f5a5"/>
<polygon points="585.9,334.5 593.5,330.7 603.0,329.7 612.4,331.6 620.9,333.5 620.9,360.0 616.2,362.8 612.4,365.7 608.6,369.5 603.0,373.2 599.2,369.5 597.3,361.9 593.5,354.3 591.6,346.8 590.7,340.1" fill="#e1f5a5"/>
<polygon points="601.1,319.3 606.7,318.4 610.5,322.2 608.6,326.9 603.0,326.9 600.1,323.1" fill="#e6dc32"/>
<polygon points="593.5,289.1 599.2,289.1 598.2,297.6 595.0,297.6" fill="#e6dc32"/>
<polygon points="612.4,364.7 620.9,360.0 620.9,366.6 615.3,367.6" fill="#a0e632"/>
<polygon points="576.5,328.8 578.8,328.8 578.8,331.2 576.5,331.2" fill="#a0e632"/>
<polygon points="479.1,289.1 498.9,289.1 499.9,295.7 504.6,301.4 511.2,305.1 517.8,308.9 521.6,316.5 527.3,322.2 534.9,324.1 536.8,327.8 542.4,330.7 548.1,328.8 555.7,330.7 559.5,337.3 563.2,343.0 565.1,346.8 568.9,348.6 574.6,352.4 578.4,346.8 582.2,340.1 586.9,340.1 589.7,346.8 590.7,354.3 588.8,361.9 591.6,367.6 597.3,373.2 603.0,378.9 608.6,384.6 614.3,390.3 617.2,395.9 618.1,403.5 479.1,403.5" fill="#e6dc32"/>
<polygon points="479.1,291.9 485.7,290.9 491.4,291.9 497.0,297.6 500.8,305.1 504.6,310.8 510.3,318.4 517.8,325.0 523.5,327.8 526.3,333.5 531.1,339.2 534.9,344.9 536.8,350.5 542.4,355.3 548.1,356.2 550.9,348.6 550.0,343.0 553.8,340.1 559.5,343.0 562.3,348.6 563.2,353.4 568.9,355.3 576.5,359.1 583.1,364.7 588.8,371.3 593.5,377.0 599.2,382.7 604.9,388.4 608.6,394.0 610.5,403.5 479.1,403.5" fill="#e6af2d"/>
<polygon points="479.1,297.6 483.8,294.7 489.5,295.7 494.2,301.4 497.0,308.9 498.9,318.4 498.9,327.8 504.6,333.5 514.1,339.2 520.7,344.9 525.4,352.4 531.1,356.2 538.6,358.1 546.2,360.9 551.9,365.7 555.7,369.5 559.5,363.8 560.4,356.2 565.1,354.3 570.8,357.2 576.5,361.9 582.2,367.6 585.9,373.2 589.7,378.9 595.4,384.6 601.1,390.3 604.9,395.9 606.7,403.5 479.1,403.5" fill="#f08228"/>
<polygon points="479.1,330.7 487.6,332.6 495.1,337.3 502.7,343.0 512.2,348.6 517.8,352.4 524.5,354.3 527.3,360.0 530.1,365.7 536.8,368.5 542.4,371.3 546.2,376.1 551.9,378.9 559.5,378.9 565.1,373.2 568.9,369.5 570.8,375.1 578.4,378.9 585.9,384.6 589.7,390.3 590.7,399.7 591.6,403.5 479.1,403.5" fill="#ff5a00"/>
<polygon points="570.8,384.6 574.6,381.8 580.3,382.7 585.0,386.5 584.0,391.2 578.4,393.1 572.7,390.3" fill="#ff0000"/>
<polygon points="479.1,334.5 485.7,336.3 491.4,341.1 498.9,346.8 508.4,352.1 516.9,356.2 524.5,359.1 526.3,364.7 528.2,368.5 535.8,374.2 543.4,378.9 550.9,382.3 555.7,386.9 560.4,393.1 566.1,403.5 479.1,403.5" fill="#ff0000"/>
<polygon points="479.1,342.0 485.7,343.0 493.2,346.8 502.7,352.4 512.2,357.2 519.7,361.9 527.3,369.5 534.9,375.1 543.4,380.4 550.9,384.6 555.7,390.3 561.3,397.8 564.2,403.5 479.1,403.5" fill="#c80000"/>
<polygon points="479.1,362.8 487.6,361.9 498.9,362.8 510.3,365.7 521.6,371.3 531.1,378.9 540.5,386.5 548.1,394.0 552.8,403.5 479.1,403.5" fill="#960000"/>
</g>
</g>
<g clip-path="url(#mapclip)" stroke="#7a7a7a" stroke-width="1" stroke-dasharray="2,4" fill="none" shape-rendering="crispEdges">
<line x1="136.5" y1="53" x2="136.5" y2="529"/>
<line x1="196.5" y1="53" x2="196.5" y2="529"/>
<line x1="256.5" y1="53" x2="256.5" y2="529"/>
<line x1="317.5" y1="53" x2="317.5" y2="529"/>
<line x1="377.5" y1="53" x2="377.5" y2="529"/>
<line x1="437.5" y1="53" x2="437.5" y2="529"/>
<line x1="497.5" y1="53" x2="497.5" y2="529"/>
<line x1="558.5" y1="53" x2="558.5" y2="529"/>
<line x1="618.5" y1="53" x2="618.5" y2="529"/>
<line x1="122" y1="106.5" x2="618" y2="106.5"/>
<line x1="122" y1="180.5" x2="618" y2="180.5"/>
<line x1="122" y1="254.5" x2="618" y2="254.5"/>
<line x1="122" y1="327.5" x2="618" y2="327.5"/>
<line x1="122" y1="401.5" x2="618" y2="401.5"/>
<line x1="122" y1="475.5" x2="618" y2="475.5"/>
</g>
<g clip-path="url(#mapclip)" stroke="#66666c" stroke-width="2.1" fill="none" stroke-linejoin="round" stroke-linecap="round">
<polyline points="157.8,52.0 169.0,56.2 184.0,60.5 201.5,63.0 219.0,65.0 239.0,68.0 254.0,68.8 269.0,72.5 279.0,74.2 289.0,75.0 296.5,72.0 305.0,68.0"/>
<polyline points="239.0,68.0 236.5,72.5 229.0,76.2 220.2,82.5 219.0,87.5 224.0,90.0 230.2,91.2 235.2,93.8 231.5,98.8 227.8,102.5 225.2,106.2 229.0,108.8 234.0,108.0 232.8,115.0 230.8,119.5 227.8,122.0 228.2,125.0 224.5,128.2 219.5,129.5 222.0,128.2 218.2,125.0 212.0,123.2 202.5,123.2 200.0,128.8 201.2,132.5 194.2,133.2 186.8,135.8 179.2,140.2 173.0,142.8 167.2,144.0"/>
<polyline points="154.2,154.5 156.8,151.5 158.0,147.8 161.8,145.8 167.2,144.0 170.5,140.2 164.2,137.8 160.5,139.5 154.2,143.2 149.2,149.0 145.5,155.2 144.2,159.5"/>
<polyline points="230.8,119.5 234.5,122.0 241.0,122.0 244.8,123.8 248.5,128.8 251.5,132.5 248.5,137.0 243.5,136.5 239.0,136.5 241.5,134.5 238.5,130.0 236.5,125.0 234.5,122.5"/>
<polyline points="239.0,136.5 237.0,139.5 232.0,140.8 225.8,143.2 228.2,147.8 230.8,156.5 230.0,162.5"/>
<polyline points="232.0,143.2 235.2,147.0 242.2,147.0 249.8,146.5 256.0,145.8 264.8,145.2 272.2,144.2 281.0,143.2 286.0,138.2 290.0,132.5 291.2,130.8 293.0,130.8 297.5,136.5 305.0,143.2"/>
<polyline points="272.2,160.2 274.8,154.5 278.5,154.0 283.5,156.5 288.5,159.5"/>
<polyline points="304.0,70.0 306.5,63.8 314.0,60.0 329.0,57.5 344.0,57.0 354.0,54.5 364.0,53.0 374.0,51.2"/>
<polyline points="397.8,51.2 401.5,57.5 406.5,65.0 411.5,70.0 421.5,75.0 429.0,81.2 431.5,86.2 439.0,90.0 447.8,95.0 452.8,101.2 454.0,106.2 459.0,110.0 469.0,109.5 475.2,113.8 479.0,118.8 490.0,122.0"/>
<polyline points="411.5,70.0 406.5,67.0 394.0,67.0 391.5,73.8 384.0,76.2 381.5,81.2 374.0,85.0 366.5,87.5 356.5,90.0 352.8,95.0 354.0,100.0 359.0,102.5 359.0,112.5 357.8,117.5 351.5,117.0 344.0,120.0 336.5,123.8 334.0,128.8 336.5,133.8 334.0,138.8 334.0,145.0 327.8,147.5 321.5,144.5 314.0,143.0 304.0,145.0"/>
<polyline points="360.2,195.0 362.8,185.0 362.8,170.0 365.2,165.0 371.5,163.0 377.8,163.8 384.0,170.0 390.2,177.5 396.5,180.0 400.2,175.0 404.0,168.8 409.0,163.0 416.5,163.8 426.5,166.2 431.5,160.0 436.5,163.8 444.0,167.0 454.0,167.5 466.5,171.2 479.0,171.2 490.0,175.0"/>
<polyline points="489.0,121.2 499.0,122.0 511.5,123.0 522.8,125.0 530.2,121.2 537.8,115.0 546.5,112.5 556.5,108.8 565.2,105.0 574.0,106.2 581.5,102.5 589.0,96.2 591.5,93.0"/>
<polyline points="599.0,93.8 606.5,95.0 621.5,93.8"/>
<polyline points="546.5,112.5 551.5,117.5 556.5,122.5 555.2,130.0 551.5,136.2 554.0,140.0 560.2,138.8 564.0,142.5 557.8,146.2 556.5,151.2 561.5,155.0 569.0,158.8 579.0,161.2 584.0,163.8 582.8,167.0 575.2,166.2 569.0,163.8 565.2,170.0 564.0,177.5 560.2,185.0 557.8,190.0"/>
<polyline points="489.0,174.5 499.0,172.5 509.0,173.0 514.0,170.5 521.5,171.8 529.0,172.5 536.5,175.0 542.8,180.0 545.2,186.2 551.5,190.0 557.8,190.0 566.5,187.5 579.0,186.2 582.0,190.0 580.2,195.0"/>
<polyline points="156.8,233.5 159.5,236.5 164.0,242.5 171.5,250.0 179.0,255.0 186.5,256.2 194.0,260.0 201.5,267.5 209.0,273.8 216.5,278.8 224.0,282.0 230.2,283.0 234.0,288.8 237.8,297.5 241.5,307.5 245.2,317.5 249.0,327.5 251.5,341.2"/>
<polygon points="159.5,257.5 162.8,254.5 166.5,256.2 165.2,260.5 161.5,262.0"/>
<polyline points="361.5,193.8 369.0,200.0 376.5,203.8 379.0,211.2 384.0,217.5 389.0,225.0 387.8,232.5 386.5,238.8 392.8,240.0 397.8,245.0 404.0,250.5 410.2,252.5 416.5,260.0 422.8,267.5 429.0,275.0 436.5,282.5 444.0,290.0 454.0,293.8 455.2,303.8 461.5,311.2 471.5,317.5 477.8,322.5 477.8,328.8 474.0,332.0"/>
<polyline points="324.0,236.2 329.0,242.5 335.2,248.8 341.5,255.0 349.0,261.2 356.5,267.5 364.0,271.2 370.2,275.0 375.2,281.2 372.8,286.2 379.0,291.2 385.2,291.2 391.5,287.5 399.0,287.0 406.5,288.8 414.0,292.5 421.5,296.2 429.0,300.0 434.0,305.0 440.2,308.8 446.5,313.8 454.0,318.8 464.0,325.0 474.0,331.2 484.0,333.8 490.0,335.0"/>
<polyline points="323.0,220.0 324.0,225.0 319.0,230.0 326.5,235.0 329.0,230.0 335.2,232.5 341.5,233.0 347.8,233.8"/>
<polyline points="323.0,212.8 324.0,217.5 331.5,225.0 336.5,230.0 324.0,236.2"/>
<polyline points="307.8,241.2 314.0,247.5 320.2,255.0 326.5,260.0 330.2,262.5 329.0,258.8 322.8,253.8"/>
<polygon points="401.5,301.2 404.0,298.8 414.0,298.8 426.5,301.2 431.5,305.0 426.5,307.5 414.0,307.0 404.0,305.5"/>
<polygon points="400.2,312.5 409.0,311.2 421.5,314.5 434.0,316.2 444.0,317.5 444.0,319.5 429.0,318.8 414.0,318.8 404.0,315.0"/>
<polygon points="379.0,323.8 384.0,321.2 390.2,321.2 391.5,324.5 386.5,327.0 380.2,326.2"/>
<polygon points="414.0,330.0 424.0,328.8 436.5,330.0 446.5,331.2 445.2,333.8 431.5,333.8 419.0,333.8"/>
<polyline points="436.5,326.2 446.5,326.2 459.0,330.0 469.0,333.8 479.0,337.5 469.0,332.0 454.0,327.5"/>
<polyline points="580.2,193.8 576.5,202.5 571.5,208.8 565.2,213.8 564.0,220.0 564.0,226.2 567.8,232.5 575.2,235.0 581.5,238.8 587.8,245.0 594.0,248.8 596.5,252.0 591.5,256.2 581.5,256.2 575.2,253.0 572.8,253.8 575.2,258.8 581.5,265.0 587.8,271.2 589.0,277.5 587.8,283.8 581.5,285.0 574.0,288.8 571.5,289.5"/>
<polyline points="571.5,289.5 564.0,287.5 557.8,286.2 554.5,290.0 557.8,295.0 561.5,298.8 563.5,305.0 561.5,310.0 556.5,308.8 554.5,302.5 550.2,300.5 544.0,302.5 539.0,308.8 537.0,316.2 536.5,322.5 531.5,325.0 526.5,330.0 525.2,341.2"/>
<polyline points="571.5,289.5 576.5,293.8 584.0,300.0 591.5,307.5 597.8,313.8 606.5,316.2 614.0,318.8 621.5,321.2"/>
<polyline points="119.0,391.2 124.0,397.5 131.5,400.0 139.0,403.8 144.0,410.0 149.0,416.2 156.5,423.8 164.0,431.2 171.5,437.5 179.0,441.2 186.5,445.0 192.8,450.0 196.5,456.2 204.0,456.2 212.0,452.2 217.0,453.5 222.0,456.0 228.2,456.8 234.5,455.5 239.5,456.0 243.2,459.8 245.8,464.2 248.2,464.8 251.5,470.0 255.8,478.0 258.2,483.0 260.8,486.2"/>
<polyline points="251.2,338.8 254.5,347.5 259.5,353.8 264.5,360.0 268.2,365.5 273.2,368.8 278.2,374.2 283.2,380.0 289.5,384.2 294.5,386.2 298.8,388.0 299.5,391.2 303.2,396.2 305.0,397.2"/>
<polyline points="302.8,396.2 309.0,400.0 316.5,401.2 324.0,405.5 334.0,407.5 346.5,407.5 354.0,405.5 364.0,406.2 374.0,404.5 381.5,405.5 387.8,410.0 389.0,416.2 385.2,421.2 377.8,425.0 371.5,428.8 370.2,433.8 375.2,440.0 384.0,445.0 394.0,450.0 404.0,455.0 414.0,459.5 424.0,462.5 434.0,467.0 444.0,470.0 451.5,475.0 457.8,480.0 464.0,487.5"/>
<polygon points="457.0,342.0 464.0,342.5 474.0,345.5 482.0,349.5 474.0,347.5 464.0,345.0 457.0,343.5"/>
<polyline points="476.5,338.8 484.0,342.0 490.0,344.5"/>
<polyline points="487.8,340.0 496.5,347.5 504.0,353.8 514.0,361.2 524.0,367.5 532.8,372.5 541.5,377.5 550.2,382.5 556.5,388.8 562.8,395.0 566.5,402.5 571.5,407.0 579.0,410.5 586.5,412.0 592.8,415.0 594.0,422.5 591.5,430.0 586.5,437.5 585.2,445.0 587.8,452.5 589.0,460.0 586.5,467.5 585.2,475.0 589.0,480.0 585.2,487.5"/>
<polygon points="526.5,367.5 531.5,366.2 539.0,367.0 540.2,370.0 535.2,372.5 531.5,371.2"/>
<polyline points="524.0,338.8 526.5,343.8 532.8,348.8 531.5,353.8 526.5,357.5 525.2,363.8 526.5,367.5"/>
<polyline points="514.0,355.0 520.2,355.0 526.5,357.5"/>
<polyline points="579.0,410.5 579.0,400.0 582.0,392.5 576.5,386.2 581.5,380.0 587.8,371.2 594.0,362.5 595.2,356.2 599.0,352.5 602.8,352.5 604.0,360.0 606.5,365.0 611.5,365.0 621.5,361.2"/>
<polyline points="256.2,479.5 258.8,485.8 265.0,488.2 272.5,487.0 280.0,489.5 283.8,495.8 278.8,500.8 280.0,504.0 287.5,502.5 295.0,499.5 302.5,498.2 308.8,504.5 313.8,512.0 316.2,518.2 313.8,524.5 311.2,532.0"/>
<polyline points="415.0,460.8 425.0,463.2 437.5,468.2 450.0,474.5 460.0,483.2 470.0,489.5 480.0,493.2 490.0,495.8 497.5,499.5 500.0,507.0 507.5,513.2 515.0,519.5 521.2,525.8 526.2,532.0"/>
<polyline points="423.8,532.0 427.5,523.2 432.5,515.8 440.0,511.5 447.5,510.0 456.2,512.0 451.2,515.8 450.0,518.2 457.5,522.0 467.5,525.0 480.0,525.8 490.0,527.5"/>
<polyline points="585.0,487.0 581.2,494.5 577.5,500.8 581.2,505.8 586.2,509.5 587.5,517.0 585.0,523.2 580.0,517.0 576.2,517.0 577.5,523.2 582.5,528.2 587.5,531.5"/>
<polyline points="230.0,162.5 232.5,167.5 236.3,172.6 240.1,178.2 243.8,183.2 246.3,188.9 245.7,191.4 250.7,197.1 255.1,193.9 255.8,189.5 258.9,185.1 263.9,183.2 266.4,180.1 265.8,174.4 268.9,170.7 271.5,167.5 272.2,160.0"/>
<polygon points="272.7,170.1 274.6,166.9 277.7,166.9 278.7,170.1 278.4,175.1 281.5,178.8 282.1,183.9 282.8,190.2 284.0,196.4 286.5,201.5 288.4,205.9 285.9,209.0 282.8,207.1 280.3,202.7 278.4,197.7 275.9,191.4 276.5,185.8 279.0,183.2 278.4,178.8 275.9,175.7 273.3,173.2"/>
<polyline points="277.1,200.2 278.4,204.0 277.7,207.7 280.3,210.3 284.0,214.0 287.8,218.4 288.4,217.2 284.6,212.8 280.9,209.0"/>
<polygon points="289.0,161.9 285.3,167.5 281.5,172.6 282.8,175.7 287.8,178.8 292.8,181.4 298.5,183.9 303.5,182.6 305.4,178.8 305.4,173.8 302.2,170.7 298.5,169.4 295.3,166.3 292.8,162.5"/>
<polyline points="288.4,159.5 291.6,160.6 295.3,163.8 300.4,168.8 306.6,171.3 310.4,176.3 312.3,182.6 309.1,188.9 309.8,197.7 312.9,203.3 317.9,207.7 323.0,212.8"/>
<polyline points="301.0,202.1 305.4,206.5 311.7,211.5 317.9,215.9 323.0,219.7"/>
<polyline points="305.4,203.3 310.4,207.1 316.7,211.5 323.0,216.5"/>
<polyline points="144.1,159.4 147.3,163.8 152.3,168.8 155.4,173.8 160.5,177.6 165.5,180.1 168.6,182.0 167.4,186.4 164.9,190.8 162.3,193.3 160.5,190.2 161.7,187.0 159.8,188.3 159.2,192.0 159.8,193.9 156.7,192.9 153.5,191.4 151.4,193.3 151.0,198.9 149.8,202.7 151.0,209.0 151.7,215.3 153.5,221.6 155.4,227.8 156.7,233.5"/>
</g>
<rect x="516.5" y="51" width="102" height="41.5" fill="#fff" stroke="#000" stroke-width="1.2"/>
<rect x="120" y="465.8" width="135.6" height="64" fill="#fff" stroke="#000" stroke-width="1.4"/>
<rect x="120" y="51" width="499" height="479" fill="none" stroke="#000" stroke-width="2"/>
<g stroke="#000" stroke-width="1">
<line x1="136.4" y1="531" x2="136.4" y2="534"/>
<line x1="196.7" y1="531" x2="196.7" y2="534"/>
<line x1="257.1" y1="531" x2="257.1" y2="534"/>
<line x1="317.4" y1="531" x2="317.4" y2="534"/>
<line x1="377.7" y1="531" x2="377.7" y2="534"/>
<line x1="438.0" y1="531" x2="438.0" y2="534"/>
<line x1="498.4" y1="531" x2="498.4" y2="534"/>
<line x1="558.7" y1="531" x2="558.7" y2="534"/>
<line x1="619.0" y1="531" x2="619.0" y2="534"/>
<line x1="116" y1="106.4" x2="119" y2="106.4"/>
<line x1="116" y1="180.2" x2="119" y2="180.2"/>
<line x1="116" y1="254.0" x2="119" y2="254.0"/>
<line x1="116" y1="327.9" x2="119" y2="327.9"/>
<line x1="116" y1="401.7" x2="119" y2="401.7"/>
<line x1="116" y1="475.5" x2="119" y2="475.5"/>
</g>
<text x="136.4" y="543.8" font-size="10.2" text-anchor="middle" textLength="17.2" lengthAdjust="spacingAndGlyphs">12E</text>
<text x="196.7" y="543.8" font-size="10.2" text-anchor="middle" textLength="17.2" lengthAdjust="spacingAndGlyphs">13E</text>
<text x="257.1" y="543.8" font-size="10.2" text-anchor="middle" textLength="17.2" lengthAdjust="spacingAndGlyphs">14E</text>
<text x="317.4" y="543.8" font-size="10.2" text-anchor="middle" textLength="17.2" lengthAdjust="spacingAndGlyphs">15E</text>
<text x="377.7" y="543.8" font-size="10.2" text-anchor="middle" textLength="17.2" lengthAdjust="spacingAndGlyphs">16E</text>
<text x="438.0" y="543.8" font-size="10.2" text-anchor="middle" textLength="17.2" lengthAdjust="spacingAndGlyphs">17E</text>
<text x="498.4" y="543.8" font-size="10.2" text-anchor="middle" textLength="17.2" lengthAdjust="spacingAndGlyphs">18E</text>
<text x="558.7" y="543.8" font-size="10.2" text-anchor="middle" textLength="17.2" lengthAdjust="spacingAndGlyphs">19E</text>
<text x="619.0" y="543.8" font-size="10.2" text-anchor="middle" textLength="17.2" lengthAdjust="spacingAndGlyphs">20E</text>
<text x="114.6" y="110.1" font-size="10.2" text-anchor="end" textLength="17.2" lengthAdjust="spacingAndGlyphs">46N</text>
<text x="114.6" y="183.9" font-size="10.2" text-anchor="end" textLength="17.2" lengthAdjust="spacingAndGlyphs">45N</text>
<text x="114.6" y="257.7" font-size="10.2" text-anchor="end" textLength="17.2" lengthAdjust="spacingAndGlyphs">44N</text>
<text x="114.6" y="331.6" font-size="10.2" text-anchor="end" textLength="17.2" lengthAdjust="spacingAndGlyphs">43N</text>
<text x="114.6" y="405.4" font-size="10.2" text-anchor="end" textLength="17.2" lengthAdjust="spacingAndGlyphs">42N</text>
<text x="114.6" y="479.2" font-size="10.2" text-anchor="end" textLength="17.2" lengthAdjust="spacingAndGlyphs">41N</text>
<text class="t" y="40.2" font-size="14.6" transform="scale(1.09,1)"><tspan x="156.33" textLength="89.17" lengthAdjust="spacing">Temperatura</tspan> <tspan x="255.87" textLength="37.61" lengthAdjust="spacing">zraka</tspan> <tspan x="303.58" textLength="15.60" lengthAdjust="spacing">na</tspan> <tspan x="328.99" textLength="20.37" lengthAdjust="spacing">2m</tspan> <tspan x="360.83" textLength="6.24" lengthAdjust="spacing">u</tspan> <tspan x="377.16" textLength="17.80" lengthAdjust="spacing">00</tspan> <tspan x="405.23" textLength="25.41" lengthAdjust="spacing">UTC</tspan> <tspan x="441.56" textLength="81.01" lengthAdjust="spacing">16NOV2012</tspan> </text>
<text y="78.8" font-size="20.6" style="fill:#1e3cff;stroke:#1e3cff;stroke-width:0.6px"><tspan x="529.5" textLength="15.2" lengthAdjust="spacingAndGlyphs">©</tspan><tspan x="547.1" textLength="14.9" lengthAdjust="spacingAndGlyphs">D</tspan><tspan x="563.9" textLength="13.4" lengthAdjust="spacingAndGlyphs">H</tspan><tspan x="578.1" textLength="15.1" lengthAdjust="spacingAndGlyphs">M</tspan><tspan x="595.0" textLength="10.8" lengthAdjust="spacingAndGlyphs">Z</tspan></text>
<text x="148.6" y="483.3" font-size="10.4" textLength="100.2" lengthAdjust="spacingAndGlyphs">Temperatura zraka</text>
<text x="172.5" y="497.0" font-size="10.4" textLength="76.3" lengthAdjust="spacingAndGlyphs">na 2m (st. C)</text>
<text x="140.6" y="510.8" font-size="10.4" textLength="108.2" lengthAdjust="spacingAndGlyphs">start 00z13nov2012</text>
<text x="128.5" y="524.3" font-size="10.4" textLength="120.3" lengthAdjust="spacingAndGlyphs">termin 00Z16NOV2012</text>
<rect x="652" y="77.30" width="15.2" height="18.91" fill="#faebd7"/>
<rect x="652" y="95.91" width="15.2" height="18.91" fill="#d8bfd8"/>
<rect x="652" y="114.52" width="15.2" height="18.91" fill="#dda0dd"/>
<rect x="652" y="133.13" width="15.2" height="18.91" fill="#ba55d3"/>
<rect x="652" y="151.74" width="15.2" height="18.91" fill="#8b008b"/>
<rect x="652" y="170.35" width="15.2" height="18.91" fill="#960000"/>
<rect x="652" y="188.96" width="15.2" height="18.91" fill="#c80000"/>
<rect x="652" y="207.57" width="15.2" height="18.91" fill="#ff0000"/>
<rect x="652" y="226.18" width="15.2" height="18.91" fill="#ff5a00"/>
<rect x="652" y="244.79" width="15.2" height="18.91" fill="#f08228"/>
<rect x="652" y="263.40" width="15.2" height="18.91" fill="#e6af2d"/>
<rect x="652" y="282.01" width="15.2" height="18.91" fill="#e6dc32"/>
<rect x="652" y="300.62" width="15.2" height="18.91" fill="#f5ec5a"/>
<rect x="652" y="319.23" width="15.2" height="18.91" fill="#e1f5a5"/>
<rect x="652" y="337.84" width="15.2" height="18.91" fill="#a0e632"/>
<rect x="652" y="356.45" width="15.2" height="18.91" fill="#00dc00"/>
<rect x="652" y="375.06" width="15.2" height="18.91" fill="#00b200"/>
<rect x="652" y="393.67" width="15.2" height="18.91" fill="#007d00"/>
<rect x="652" y="412.28" width="15.2" height="18.91" fill="#1e3cff"/>
<rect x="652" y="430.89" width="15.2" height="18.91" fill="#00a0ff"/>
<rect x="652" y="449.50" width="15.2" height="18.91" fill="#b0e0e6"/>
<rect x="652" y="468.11" width="15.2" height="18.91" fill="#e8ffff"/>
<text x="670.3" y="81.3" font-size="11.6" textLength="14.4" lengthAdjust="spacingAndGlyphs">29</text>
<text x="670.3" y="99.9" font-size="11.6" textLength="14.4" lengthAdjust="spacingAndGlyphs">27</text>
<text x="670.3" y="118.5" font-size="11.6" textLength="14.4" lengthAdjust="spacingAndGlyphs">25</text>
<text x="670.3" y="137.1" font-size="11.6" textLength="14.4" lengthAdjust="spacingAndGlyphs">23</text>
<text x="670.3" y="155.7" font-size="11.6" textLength="14.4" lengthAdjust="spacingAndGlyphs">21</text>
<text x="670.3" y="174.3" font-size="11.6" textLength="14.4" lengthAdjust="spacingAndGlyphs">19</text>
<text x="670.3" y="193.0" font-size="11.6" textLength="14.4" lengthAdjust="spacingAndGlyphs">17</text>
<text x="670.3" y="211.6" font-size="11.6" textLength="14.4" lengthAdjust="spacingAndGlyphs">15</text>
<text x="670.3" y="230.2" font-size="11.6" textLength="14.4" lengthAdjust="spacingAndGlyphs">13</text>
<text x="670.3" y="248.8" font-size="11.6" textLength="14.4" lengthAdjust="spacingAndGlyphs">11</text>
<text x="670.3" y="267.4" font-size="11.6" textLength="6.8" lengthAdjust="spacingAndGlyphs">9</text>
<text x="670.3" y="286.0" font-size="11.6" textLength="6.8" lengthAdjust="spacingAndGlyphs">7</text>
<text x="670.3" y="304.6" font-size="11.6" textLength="6.8" lengthAdjust="spacingAndGlyphs">5</text>
<text x="670.3" y="323.2" font-size="11.6" textLength="6.8" lengthAdjust="spacingAndGlyphs">3</text>
<text x="670.3" y="341.8" font-size="11.6" textLength="6.8" lengthAdjust="spacingAndGlyphs">1</text>
<text x="670.3" y="360.4" font-size="11.6" textLength="15.1" lengthAdjust="spacingAndGlyphs">−1</text>
<text x="670.3" y="379.1" font-size="11.6" textLength="15.1" lengthAdjust="spacingAndGlyphs">−3</text>
<text x="670.3" y="397.7" font-size="11.6" textLength="15.1" lengthAdjust="spacingAndGlyphs">−5</text>
<text x="670.3" y="416.3" font-size="11.6" textLength="15.1" lengthAdjust="spacingAndGlyphs">−7</text>
<text x="670.3" y="434.9" font-size="11.6" textLength="15.1" lengthAdjust="spacingAndGlyphs">−9</text>
<text x="670.3" y="453.5" font-size="11.6" textLength="23.6" lengthAdjust="spacingAndGlyphs">−11</text>
<text x="670.3" y="472.1" font-size="11.6" textLength="23.6" lengthAdjust="spacingAndGlyphs">−13</text>
<text x="670.3" y="490.7" font-size="11.6" textLength="23.6" lengthAdjust="spacingAndGlyphs">−15</text>
<text x="670.3" y="509.3" font-size="11.6" textLength="23.6" lengthAdjust="spacingAndGlyphs">−17</text>
<text x="664.6" y="528.8" font-size="9.8" textLength="35" lengthAdjust="spacingAndGlyphs">(st. C)</text>
</svg></body></html>
